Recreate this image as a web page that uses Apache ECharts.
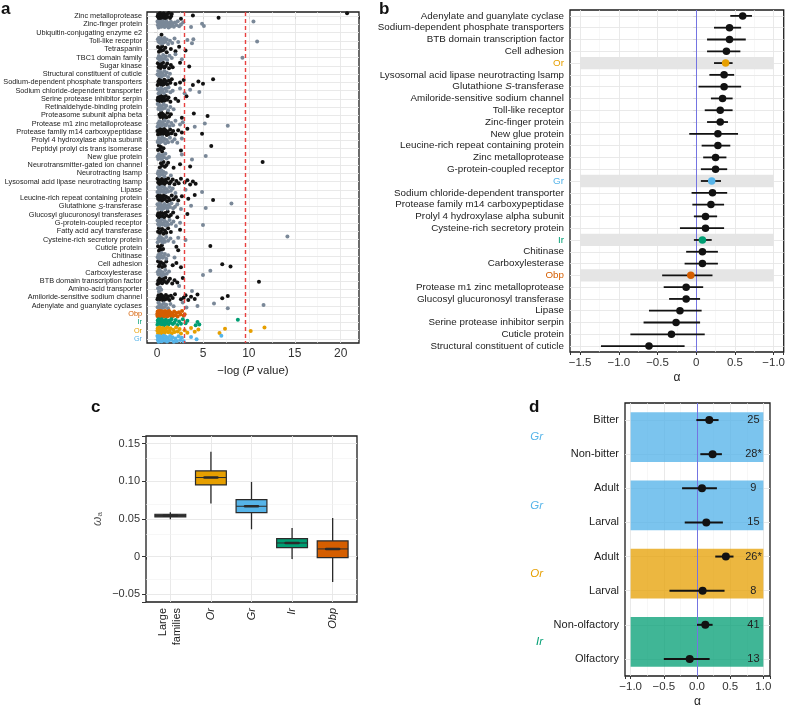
<!DOCTYPE html>
<html>
<head>
<meta charset="utf-8">
<script src="https://cdn.jsdelivr.net/npm/echarts@6/dist/echarts.min.js"></script>
<style>
  html, body { margin: 0; padding: 0; background: #fff; }
  #chart { width: 788px; height: 710px; }
</style>
</head>
<body>
<div id="chart"></div>
<script>
const FONT = 'Liberation Sans, Arial, Helvetica, sans-serif'
const FAM = { Obp: '#d55e00', Ir: '#009e73', Or: '#e69f00', Gr: '#56b4e9' }
const BLACK = '#121212'
const GREY = '#7a8898'
const TXT = '#222'

// ---- panel a: -log(P) per gene family ----
const aNames = [
  'Zinc metalloprotease', 'Zinc-finger protein', 'Ubiquitin-conjugating enzyme e2', 'Toll-like receptor',
  'Tetraspanin', 'TBC1 domain family', 'Sugar kinase', 'Structural constituent of cuticle',
  'Sodium-dependent phosphate transporters', 'Sodium chloride-dependent transporter',
  'Serine protease inhibitor serpin', 'Retinaldehyde-binding protein', 'Proteasome subunit alpha beta',
  'Protease m1 zinc metalloprotease', 'Protease family m14 carboxypeptidase', 'Prolyl 4 hydroxylase alpha subunit',
  'Peptidyl prolyl cis trans isomerase', 'New glue protein', 'Neurotransmitter-gated ion channel',
  'Neurotracting lsamp', 'Lysosomal acid lipase neurotracting lsamp', 'Lipase',
  'Leucine-rich repeat containing protein', 'Glutathione S-transferase', 'Glucosyl glucuronosyl transferases',
  'G-protein-coupled receptor', 'Fatty acid acyl transferase', 'Cysteine-rich secretory protein',
  'Cuticle protein', 'Chitinase', 'Cell adhesion', 'Carboxylesterase', 'BTB domain transcription factor',
  'Amino-acid transporter', 'Amiloride-sensitive sodium channel', 'Adenylate and guanylate cyclases',
  'Obp', 'Ir', 'Or', 'Gr'
]
const aValues = [
  [0.06,0.12,0.18,0.21,0.29,0.33,0.41,0.44,0.52,0.58,0.63,0.71,0.77,0.86,0.95,1.04,1.12,1.27,1.41,1.52,1.6,2.6,3.9,6.7,20.7],
  [0.04,0.09,0.13,0.17,0.22,0.26,0.31,0.35,0.4,0.46,0.5,0.55,0.61,0.66,0.72,0.78,0.83,0.9,0.96,1.03,1.1,1.18,1.25,1.33,1.42,1.5,1.6,1.71,1.83,1.95,2.1,2.25,2.4,2.6,2.85,3.7,4.9,5.1,10.5],
  [0.48],
  [0.08,0.15,0.22,0.3,0.37,0.45,0.53,0.62,0.7,0.8,0.92,1.05,1.2,1.4,1.65,1.9,2.3,3.3,3.8,3.95,10.9],
  [0.1,0.2,0.32,0.45,0.55,0.7,0.9,1.05,1.5,2.0,2.4,3.1],
  [0.1,0.2,0.3,0.42,0.55,0.66,0.8,0.95,1.1,1.35,1.6,2.0,2.7,9.3],
  [0.08,0.16,0.25,0.35,0.44,0.55,0.65,0.8,0.95,1.1,1.3,1.5,1.7,2.5,3.5],
  [0.05,0.12,0.2,0.28,0.35,0.45,0.55,0.65,0.78,0.9,1.05,1.2,1.4],
  [0.06,0.14,0.2,0.28,0.35,0.42,0.5,0.6,0.68,0.78,0.9,1.0,1.15,1.3,1.45,1.6,2.0,2.5,2.9,3.9,4.5,5.0,6.1],
  [0.07,0.15,0.24,0.33,0.42,0.52,0.63,0.75,0.9,1.05,1.25,1.45,1.7,2.5,3.0,3.6,4.6],
  [0.05,0.1,0.17,0.24,0.3,0.37,0.43,0.5,0.58,0.65,0.74,0.83,0.95,1.1,1.25,1.45,2.0,2.3,3.2],
  [0.06,0.14,0.22,0.3,0.4,0.5,0.6,0.72,0.85,1.0,1.2,1.45,1.8],
  [0.25,0.35,0.45,0.55,0.62,0.72,0.85,1.0,1.15,1.3,1.5,2.7,4.0,5.5],
  [0.05,0.12,0.2,0.27,0.35,0.43,0.52,0.6,0.7,0.8,0.92,1.05,1.2,1.35,1.55,1.75,2.0,2.5,2.8,4.1,5.2,7.7],
  [0.04,0.1,0.16,0.22,0.28,0.34,0.4,0.47,0.54,0.61,0.69,0.77,0.86,0.95,1.05,1.16,1.28,1.42,1.58,1.75,2.0,2.3,2.7,3.3,4.9],
  [0.06,0.13,0.2,0.28,0.36,0.45,0.55,0.65,0.77,0.9,1.05,1.2,1.4,1.65,1.9,2.2,2.7],
  [0.1,0.2,0.3,0.42,0.55,0.7,2.6,5.9],
  [0.05,0.12,0.2,0.3,0.4,0.5,0.62,0.75,0.9,1.05,1.3,2.7,3.8,5.3],
  [0.3,0.42,0.55,0.7,0.85,1.0,1.2,1.8,2.5,3.6,11.5],
  [0.08,0.15,0.22,0.3,0.38,0.47,0.56,0.68,0.8,0.95,1.5],
  [0.05,0.12,0.2,0.27,0.35,0.43,0.52,0.6,0.7,0.8,0.92,1.05,1.2,1.35,1.5,1.7,1.9,2.1,2.35,2.6,3.0,3.3,3.6,3.9,4.2],
  [0.04,0.1,0.16,0.23,0.3,0.37,0.45,0.53,0.62,0.72,0.82,0.93,1.05,1.2,1.35,1.5,1.7,2.0,3.1,4.9],
  [0.05,0.11,0.18,0.25,0.32,0.4,0.48,0.56,0.65,0.75,0.86,0.98,1.1,1.25,1.4,1.6,1.8,2.05,2.3,2.7,3.4,4.1,6.1],
  [0.04,0.1,0.16,0.22,0.29,0.36,0.43,0.51,0.59,0.68,0.78,0.88,1.0,1.12,1.26,1.4,1.56,1.75,1.95,2.2,2.6,3.7,5.3,8.1],
  [0.06,0.13,0.2,0.28,0.36,0.45,0.55,0.65,0.76,0.88,1.0,1.15,1.3,1.5,1.75,2.2,3.3],
  [0.05,0.11,0.18,0.25,0.33,0.41,0.5,0.6,0.7,0.81,0.93,1.06,1.2,1.36,1.55,1.78,2.05,2.5,5.0],
  [0.1,0.2,0.3,0.42,0.55,0.7,0.85,1.0,1.2,1.5,2.5],
  [0.06,0.14,0.22,0.3,0.4,0.5,0.6,0.72,0.85,1.0,1.2,1.45,1.8,2.3,3.1,14.2],
  [0.1,0.2,0.3,0.4,0.52,0.65,2.1,2.3,5.8],
  [0.06,0.14,0.22,0.3,0.4,0.5,0.6,0.72,0.85,1.0,1.2,1.9],
  [0.1,0.2,0.3,0.42,0.55,0.7,0.85,1.0,1.7,2.1,2.6,7.1,8.0],
  [0.06,0.14,0.22,0.3,0.4,0.5,0.62,0.75,0.9,1.05,1.3,5.0,5.8],
  [0.05,0.12,0.2,0.28,0.36,0.45,0.55,0.66,0.78,0.9,1.05,1.2,1.4,1.65,1.9,2.2,2.8,11.1],
  [0.1,0.2,0.3,0.45,2.4,3.8],
  [0.04,0.1,0.16,0.22,0.28,0.35,0.42,0.5,0.58,0.66,0.75,0.85,0.96,1.08,1.2,1.35,1.5,1.7,1.95,2.6,2.9,3.1,3.4,3.7,4.1,4.4,7.1,7.7],
  [0.06,0.14,0.22,0.3,0.4,0.5,0.6,0.72,0.85,1.0,1.2,1.45,1.8,2.8,3.2,4.4,6.2,7.7,11.6],
  [0.02,0.04,0.06,0.08,0.1,0.12,0.14,0.16,0.18,0.2,0.23,0.26,0.29,0.32,0.35,0.38,0.41,0.44,0.48,0.52,0.56,0.6,0.64,0.68,0.72,0.77,0.82,0.87,0.92,0.98,1.04,1.1,1.17,1.24,1.31,1.39,1.47,1.56,1.65,1.75,1.86,1.98,2.1,2.24,2.38,2.55,2.72,2.9,3.0],
  [0.03,0.07,0.11,0.15,0.19,0.24,0.29,0.34,0.39,0.45,0.51,0.57,0.64,0.71,0.78,0.86,0.94,1.03,1.12,1.22,1.33,1.45,1.58,1.72,1.87,2.03,2.2,2.4,2.6,2.8,3.1,3.3,4.2,4.4,4.6,8.8],
  [0.03,0.07,0.11,0.15,0.2,0.25,0.3,0.35,0.41,0.47,0.53,0.6,0.67,0.75,0.83,0.92,1.01,1.11,1.22,1.34,1.46,1.6,1.75,1.9,2.07,2.25,2.45,2.6,3.0,3.3,3.7,4.1,4.5,6.8,7.4,10.2,11.7],
  [0.03,0.07,0.11,0.16,0.21,0.26,0.31,0.37,0.43,0.5,0.57,0.64,0.72,0.8,0.89,0.98,1.08,1.18,1.29,1.41,1.54,1.68,1.83,1.99,2.16,2.34,2.52,2.7,2.9,3.7,4.3,7.0]
]
const aCutoffs = [3, 9.6]
const aTickLabels = { 0: '0', 5: '5', 10: '10', 15: '15', 20: '20' }
// vertical jitter offsets (fraction of a row)
const JITTER = [0.02, -0.27, 0.31, -0.09, 0.18, -0.36, 0.1, -0.18, 0.36, -0.03, 0.25, -0.31, 0.14, -0.13, 0.29, -0.22, 0.06, -0.38, 0.21]

// ---- panel b: alpha per family with CI ----
const bNames = [
  'Adenylate and guanylate cyclase', 'Sodium-dependent phosphate transporters', 'BTB domain transcription factor',
  'Cell adhesion', 'Or', 'Lysosomal acid lipase neurotracting lsamp', 'Glutathione S-transferase',
  'Amiloride-sensitive sodium channel', 'Toll-like receptor', 'Zinc-finger protein', 'New glue protein',
  'Leucine-rich repeat containing protein', 'Zinc metalloprotease', 'G-protein-coupled receptor', 'Gr',
  'Sodium chloride-dependent transporter', 'Protease family m14 carboxypeptidase', 'Prolyl 4 hydroxylase alpha subunit',
  'Cysteine-rich secretory protein', 'Ir', 'Chitinase', 'Carboxylesterase', 'Obp',
  'Protease m1 zinc metalloprotease', 'Glucosyl glucuronosyl transferase', 'Lipase',
  'Serine protease inhibitor serpin', 'Cuticle protein', 'Structural constituent of cuticle'
]
const bAlpha = [0.60,0.43,0.43,0.39,0.38,0.36,0.36,0.34,0.31,0.31,0.28,0.28,0.25,0.25,0.20,0.21,0.19,0.12,0.12,0.08,0.08,0.08,-0.07,-0.13,-0.13,-0.21,-0.26,-0.32,-0.61]
const bLow = [0.44,0.23,0.14,0.14,0.23,0.17,0.03,0.19,0.11,0.14,-0.09,0.07,0.09,0.06,0.06,-0.06,-0.05,-0.03,-0.21,-0.03,-0.13,-0.15,-0.44,-0.42,-0.35,-0.61,-0.68,-0.85,-1.23]
const bHigh = [0.72,0.58,0.64,0.57,0.47,0.49,0.58,0.47,0.47,0.41,0.54,0.44,0.39,0.40,0.32,0.40,0.36,0.27,0.36,0.20,0.28,0.28,0.21,0.09,0.05,0.07,0.05,0.11,-0.15]
const bBandFrom = -1.5, bBandTo = 1.0
const bTickLabels = { '-1.5': '−1.5', '-1': '−1.0', '-0.5': '−0.5', 0: '0', 0.5: '0.5', 1: '−1.0' }

// ---- panel c: omega_a boxplots ----
const cGroups = ['Large families', 'Or', 'Gr', 'Ir', 'Obp']
const cLow  = [0.0496, 0.0704, 0.0363, -0.0030, -0.0336]
const cQ1   = [0.0527, 0.0951, 0.0584,  0.0119, -0.0013]
const cMed  = [0.0544, 0.1049, 0.0668,  0.0181,  0.0102]
const cQ3   = [0.0562, 0.1137, 0.0757,  0.0239,  0.0208]
const cHigh = [0.0588, 0.1390, 0.0991,  0.0380,  0.0513]
const cFill = ['#4a4a4a', FAM.Or, FAM.Gr, FAM.Ir, FAM.Obp]
const cTickLabels = { '-0.05': '−0.05', 0: '0', 0.05: '0.05', 0.1: '0.10', 0.15: '0.15' }

// ---- panel d: alpha by receptor subset ----
const dRows = ['Bitter', 'Non-bitter', 'Adult', 'Larval', 'Adult', 'Larval', 'Non-olfactory', 'Olfactory']
const dAlpha = [0.185, 0.235, 0.075, 0.14, 0.435, 0.085, 0.125, -0.11]
const dLow   = [-0.01, 0.05, -0.225, -0.185, 0.275, -0.415, 0.0, -0.50]
const dHigh  = [0.325, 0.375, 0.30, 0.39, 0.55, 0.415, 0.235, 0.19]
const dCounts = ['25', '28*', '9', '15', '26*', '8', '41', '13']
const dGroups = ['Gr', 'Gr', 'Or', 'Ir']
const dBandFrom = -1, dBandTo = 1, dCountX = 0.85
const dBand = { Gr: 'rgba(86,180,233,0.78)', Or: 'rgba(230,159,0,0.75)', Ir: 'rgba(0,158,115,0.75)' }
const dTickLabels = { '-1': '−1.0', '-0.5': '−0.5', 0: '0.0', 0.5: '0.5', 1: '1.0' }

// helpers
function pick(map) {
  return v => {
    for (const k in map) if (Math.abs(v - Number(k)) < 1e-6) return map[k]
    return ''
  }
}
function makeRich(fs) {
  const r = { n: { fontSize: fs, color: TXT, fontFamily: FONT }, i: { fontSize: fs, color: TXT, fontStyle: 'italic', fontFamily: FONT } }
  for (const k in FAM) r[k] = { fontSize: fs, color: FAM[k], fontFamily: FONT }
  return r
}
function famLabel(v) {
  if (FAM[v]) return `{${v}|${v}}`
  if (v.indexOf(' S-') >= 0) {
    const parts = v.split(' S-')
    return `{n|${parts[0]} }{i|S}{n|-${parts[1]}}`
  }
  return `{n|${v}}`
}
const tick = { show: true, length: 3, lineStyle: { color: '#333', width: 1 } }
const major = { color: '#e6e6e6', width: 0.9, type: 'solid' }
const minor = { color: '#f2f2f2', width: 0.6, type: 'solid' }

function gridLines(xi, yi, xs, xm, ys, ym) {
  const data = [
    ...xs.map(v => ({ xAxis: v, lineStyle: major })),
    ...xm.map(v => ({ xAxis: v, lineStyle: minor })),
    ...ys.map(v => ({ yAxis: v, lineStyle: major })),
    ...ym.map(v => ({ yAxis: v, lineStyle: minor }))
  ]
  return {
    type: 'scatter', xAxisIndex: xi, yAxisIndex: yi, data: [], silent: true,
    markLine: { silent: true, symbol: ['none', 'none'], label: { show: false }, z: 1, data }
  }
}
function vLine(xi, yi, x, style, z) {
  return {
    type: 'scatter', xAxisIndex: xi, yAxisIndex: yi, data: [], silent: true,
    markLine: { silent: true, symbol: ['none', 'none'], label: { show: false }, z, lineStyle: style, data: [{ xAxis: x }] }
  }
}
function hBar(width) {
  return (params, api) => {
    const y = api.value(2)
    const a = api.coord([api.value(0), y])
    const b = api.coord([api.value(1), y])
    return { type: 'line', shape: { x1: a[0], y1: a[1], x2: b[0], y2: b[1] }, style: { stroke: BLACK, lineWidth: width } }
  }
}

// panel a points, one series per colour
const aByColor = {}
aNames.forEach((name, row) => {
  const color = FAM[name] || (row % 2 ? GREY : BLACK)
  if (!aByColor[color]) aByColor[color] = []
  aValues[row].forEach((v, i) => aByColor[color].push([v, row + JITTER[(i + row * 5) % JITTER.length]]))
})
const aSeries = Object.keys(aByColor).map(color => ({
  type: 'scatter', xAxisIndex: 0, yAxisIndex: 1, data: aByColor[color],
  symbolSize: 4, itemStyle: { color, opacity: 1 }, silent: true, z: 3
}))

const zeroLine = { color: '#7474e2', width: 1, type: 'solid' }
const frame = { show: true, borderColor: '#1c1c1c', borderWidth: 1.3, backgroundColor: '#fff' }
const panelTitle = (text, left, top) => ({ text, left, top, padding: 0, textStyle: { fontSize: 17, fontWeight: 'bold', color: '#111', fontFamily: FONT } })

const chart = echarts.init(document.getElementById('chart'))
chart.setOption({
  animation: false,
  textStyle: { fontFamily: FONT },
  title: [panelTitle('a', 1, 1), panelTitle('b', 379, 1), panelTitle('c', 91, 399), panelTitle('d', 529, 399)],
  grid: [
    { left: 147, top: 12, width: 212, height: 331, ...frame },
    { left: 570, top: 10, width: 216, height: 342, ...frame },
    { left: 146, top: 436, width: 211, height: 166, ...frame },
    { left: 625, top: 403, width: 145, height: 273, ...frame }
  ],
  xAxis: [
    {
      type: 'value', gridIndex: 0, min: -1.1, max: 22,
      axisLine: { show: false }, axisTick: tick, splitLine: { show: false },
      axisLabel: { formatter: pick(aTickLabels), fontSize: 12, color: '#333', margin: 5 },
      name: '−log ({i|P} value)', nameLocation: 'middle', nameGap: 22,
      nameTextStyle: { fontSize: 11.5, color: TXT, rich: { i: { fontSize: 11.5, fontStyle: 'italic', color: TXT } } }
    },
    {
      type: 'value', gridIndex: 1, min: -1.63, max: 1.13,
      axisLine: { show: false }, axisTick: tick, splitLine: { show: false },
      axisLabel: { formatter: pick(bTickLabels), fontSize: 11.5, color: '#333', margin: 5 },
      name: 'α', nameLocation: 'middle', nameGap: 20, nameTextStyle: { fontSize: 12, color: TXT }
    },
    {
      type: 'value', gridIndex: 2, min: 0.4, max: 5.6,
      axisLine: { show: false }, axisTick: tick, splitLine: { show: false },
      axisLabel: {
        rotate: 90, margin: 6, color: TXT,
        formatter: v => {
          const i = Math.round(v)
          if (Math.abs(v - i) > 1e-6 || i < 1 || i > cGroups.length) return ''
          return i === 1 ? '{n|Large}\n{n|families}' : `{i|${cGroups[i - 1]}}`
        },
        rich: { n: { fontSize: 11, color: TXT, lineHeight: 14 }, i: { fontSize: 11, color: TXT, fontStyle: 'italic' } }
      }
    },
    {
      type: 'value', gridIndex: 3, min: -1.085, max: 1.10,
      axisLine: { show: false }, axisTick: tick, splitLine: { show: false },
      axisLabel: { formatter: pick(dTickLabels), fontSize: 11.5, color: '#333', margin: 5 },
      name: 'α', nameLocation: 'middle', nameGap: 20, nameTextStyle: { fontSize: 12, color: TXT }
    }
  ],
  yAxis: [
    {
      type: 'category', gridIndex: 0, data: aNames, inverse: true,
      axisLine: { show: false }, axisTick: { ...tick, alignWithLabel: true, interval: 0 }, splitLine: { show: false },
      axisLabel: { interval: 0, margin: 5, formatter: famLabel, rich: makeRich(7.3) }
    },
    { type: 'value', gridIndex: 0, min: -0.5, max: 39.5, inverse: true, show: false },
    {
      type: 'category', gridIndex: 1, data: bNames, inverse: true,
      axisLine: { show: false }, axisTick: { ...tick, alignWithLabel: true, interval: 0 }, splitLine: { show: false },
      axisLabel: { interval: 0, margin: 6, formatter: famLabel, rich: makeRich(9.8) }
    },
    {
      type: 'value', gridIndex: 2, min: -0.0602, max: 0.16,
      axisLine: { show: false }, axisTick: { ...tick, length: 4 }, splitLine: { show: false },
      axisLabel: { formatter: pick(cTickLabels), fontSize: 11, color: '#333', margin: 6 },
      name: '{w|ω}{s|a}', nameLocation: 'middle', nameGap: 42, nameRotate: 90,
      nameTextStyle: { rich: { w: { fontSize: 12, fontStyle: 'italic', color: '#555' }, s: { fontSize: 8, color: '#555', padding: [5, 0, 0, 0] } } }
    },
    {
      type: 'category', gridIndex: 3, data: dRows.map((r, i) => String(i)), inverse: true,
      axisLine: { show: false }, axisTick: { ...tick, alignWithLabel: true, interval: 0 }, splitLine: { show: false },
      axisLabel: { interval: 0, margin: 6, fontSize: 11, color: TXT, formatter: v => dRows[Number(v)] }
    }
  ],
  series: [
    // panel a
    gridLines(0, 1, [0, 5, 10, 15, 20], [2.5, 7.5, 12.5, 17.5], aNames.map((n, i) => i), []),
    ...aSeries,
    vLine(0, 1, aCutoffs[0], { color: '#e8403f', width: 1.4, type: [4, 3] }, 6),
    vLine(0, 1, aCutoffs[1], { color: '#e8403f', width: 1.4, type: [4, 3] }, 6),

    // panel b
    gridLines(1, 2, [-1.5, -1, -0.5, 0, 0.5, 1], [-1.25, -0.75, -0.25, 0.25, 0.75], bNames, []),
    {
      type: 'custom', xAxisIndex: 1, yAxisIndex: 2, z: 2, silent: true,
      data: bNames.map((n, i) => [bBandFrom, bBandTo, i]).filter(d => FAM[bNames[d[2]]]),
      encode: { x: [0, 1], y: 2 },
      renderItem: (params, api) => {
        const a = api.coord([api.value(0), api.value(2)])
        const b = api.coord([api.value(1), api.value(2)])
        const h = api.size([0, 1])[1] * 1.04
        return { type: 'rect', shape: { x: a[0], y: a[1] - h / 2, width: b[0] - a[0], height: h }, style: { fill: '#e5e5e5' } }
      }
    },
    vLine(1, 2, 0, zeroLine, 3),
    {
      type: 'custom', xAxisIndex: 1, yAxisIndex: 2, z: 4, silent: true,
      data: bNames.map((n, i) => [bLow[i], bHigh[i], i]), encode: { x: [0, 1], y: 2 },
      renderItem: hBar(1.8)
    },
    {
      type: 'scatter', xAxisIndex: 1, yAxisIndex: 2, z: 5, silent: true, symbolSize: 7.5,
      data: bAlpha.map((v, i) => ({ value: [v, i], itemStyle: { color: FAM[bNames[i]] || BLACK, opacity: 1 } }))
    },

    // panel c
    gridLines(2, 3, [1, 2, 3, 4, 5], [], [-0.05, 0, 0.05, 0.1, 0.15], [-0.025, 0.025, 0.075, 0.125]),
    {
      type: 'custom', xAxisIndex: 2, yAxisIndex: 3, z: 3, silent: true,
      data: cGroups.map((g, i) => [i + 1, cLow[i], cQ1[i], cMed[i], cQ3[i], cHigh[i]]),
      encode: { x: 0, y: [1, 2, 3, 4, 5] },
      renderItem: (params, api) => {
        const x = api.value(0)
        const half = api.size([0.76, 0])[0] / 2
        const cx = api.coord([x, api.value(1)])[0]
        const y = k => api.coord([x, api.value(k)])[1]
        const yLow = y(1), yQ1 = y(2), yMed = y(3), yQ3 = y(4), yHigh = y(5)
        const ink = { stroke: '#2a2a2a', lineWidth: 1.3 }
        return {
          type: 'group', children: [
            { type: 'line', shape: { x1: cx, y1: yHigh, x2: cx, y2: yQ3 }, style: ink },
            { type: 'line', shape: { x1: cx, y1: yQ1, x2: cx, y2: yLow }, style: ink },
            { type: 'rect', shape: { x: cx - half, y: yQ3, width: 2 * half, height: Math.max(yQ1 - yQ3, 2) }, style: { fill: cFill[params.dataIndex], stroke: '#2a2a2a', lineWidth: 1.2 } },
            { type: 'line', shape: { x1: cx - half, y1: yMed, x2: cx + half, y2: yMed }, style: { stroke: '#2a2a2a', lineWidth: 1 } },
            { type: 'line', shape: { x1: cx - half * 0.42, y1: yMed, x2: cx + half * 0.42, y2: yMed }, style: { stroke: '#2a2a2a', lineWidth: 2.6, lineCap: 'round' } }
          ]
        }
      }
    },

    // panel d
    gridLines(3, 4, [-1, -0.5, 0, 0.5, 1], [-0.75, -0.25, 0.25, 0.75], dRows.map((r, i) => String(i)), []),
    {
      type: 'custom', xAxisIndex: 3, yAxisIndex: 4, z: 2, silent: true,
      data: dGroups.map((g, gi) => [dBandFrom, dBandTo, 2 * gi, 2 * gi + 1]),
      encode: { x: [0, 1], y: [2, 3] },
      renderItem: (params, api) => {
        const a = api.coord([api.value(0), api.value(2)])
        const b = api.coord([api.value(1), api.value(3)])
        const pad = api.size([0, 1])[1] * 0.23
        return { type: 'rect', shape: { x: a[0], y: a[1] - pad, width: b[0] - a[0], height: b[1] - a[1] + 2 * pad }, style: { fill: dBand[dGroups[params.dataIndex]] } }
      }
    },
    {
      type: 'custom', xAxisIndex: 3, yAxisIndex: 4, z: 2, silent: true, clip: false,
      data: dGroups.map((g, gi) => [dBandFrom, 2 * gi, 2 * gi + 1]),
      encode: { x: 0, y: [1, 2] },
      renderItem: (params, api) => {
        const y1 = api.coord([api.value(0), api.value(1)])[1]
        const y2 = api.coord([api.value(0), api.value(2)])[1]
        const g = dGroups[params.dataIndex]
        return {
          type: 'text', x: params.coordSys.x - 82, y: (y1 + y2) / 2,
          style: { text: g, fill: FAM[g], fontSize: 11.5, fontStyle: 'italic', fontFamily: FONT, align: 'right', verticalAlign: 'middle' }
        }
      }
    },
    vLine(3, 4, 0, zeroLine, 3),
    {
      type: 'custom', xAxisIndex: 3, yAxisIndex: 4, z: 4, silent: true,
      data: dRows.map((r, i) => [dLow[i], dHigh[i], i]), encode: { x: [0, 1], y: 2 },
      renderItem: hBar(2)
    },
    {
      type: 'scatter', xAxisIndex: 3, yAxisIndex: 4, z: 5, silent: true, symbolSize: 8,
      itemStyle: { color: BLACK, opacity: 1 }, data: dAlpha.map((v, i) => [v, i])
    },
    {
      type: 'custom', xAxisIndex: 3, yAxisIndex: 4, z: 5, silent: true,
      data: dRows.map((r, i) => [dCountX, i]), encode: { x: 0, y: 1 },
      renderItem: (params, api) => {
        const p = api.coord([api.value(0), api.value(1)])
        return {
          type: 'text', x: p[0], y: p[1],
          style: { text: dCounts[params.dataIndex], fill: TXT, fontSize: 11, fontFamily: FONT, align: 'center', verticalAlign: 'middle' }
        }
      }
    }
  ]
})
</script>
</body>
</html>
